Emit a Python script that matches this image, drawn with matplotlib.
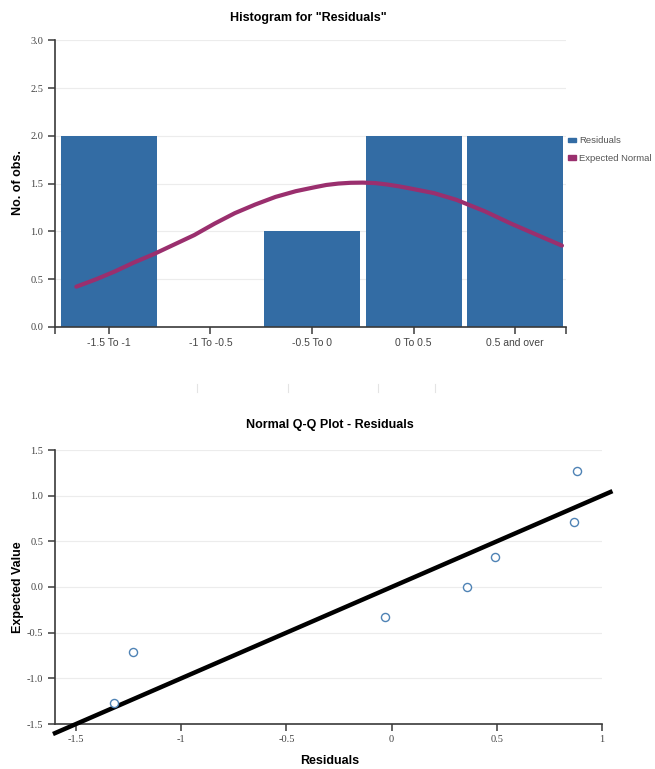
import numpy as np
import matplotlib
matplotlib.use("Agg")
import matplotlib.pyplot as plt
from matplotlib.patches import Patch
from matplotlib.lines import Line2D

# Histogram bins and observed counts
bin_labels = ["-1.5 To -1", "-1 To -0.5", "-0.5 To 0", "0 To 0.5", "0.5 and over"]
bin_counts = [2, 0, 1, 2, 2]
bin_start = -1.5
bin_width = 0.5

# Expected normal counts over the residual range
normal_x = [-1.41, -1.31, -1.22, -1.13, -1.03, -0.93, -0.83, -0.73, -0.63, -0.53,
            -0.43, -0.33, -0.24, -0.18, -0.12, -0.06, 0.00, 0.06, 0.12, 0.18,
            0.23, 0.35, 0.46, 0.60, 0.73, 0.86, 0.98]
normal_y = [0.42, 0.50, 0.58, 0.67, 0.76, 0.86, 0.96, 1.08, 1.19, 1.28,
            1.36, 1.42, 1.46, 1.485, 1.50, 1.508, 1.51, 1.505, 1.49, 1.47,
            1.45, 1.40, 1.33, 1.21, 1.08, 0.96, 0.85]

# Q-Q plot: residuals against expected normal values
residuals = [-1.32, -1.23, -0.03, 0.36, 0.49, 0.865, 0.88]
expected = [-1.27, -0.71, -0.33, 0.00, 0.33, 0.71, 1.27]
ref_line = [-1.6, 1.04]

bar_color = "#336ca4"
curve_color = "#9a2f6e"
point_color = "#4f83b5"
grid_color = "#ececec"
axis_color = "#3a3a3a"
tick_color = "#444444"

sans = ["Liberation Sans", "DejaVu Sans"]
narrow = ["Liberation Sans Narrow", "Liberation Sans", "DejaVu Sans"]
serif = ["Liberation Serif", "DejaVu Serif"]

W, H = 655, 769
fig = plt.figure(figsize=(W / 100, H / 100), dpi=100)


def px_axes(left, top, right, bottom):
    return fig.add_axes([left / W, 1 - bottom / H, (right - left) / W, (bottom - top) / H])


def style_axes(ax):
    for side in ["top", "right"]:
        ax.spines[side].set_visible(False)
    for side in ["left", "bottom"]:
        ax.spines[side].set_color(axis_color)
        ax.spines[side].set_linewidth(1.2)
    ax.tick_params(axis="both", which="both", colors=axis_color, length=5, width=1.1)
    ax.grid(axis="y", color=grid_color, linewidth=0.8)
    ax.set_axisbelow(True)


# ---- Histogram ----
ax1 = px_axes(55, 40.3, 566, 326.8)
style_axes(ax1)
pos = np.arange(len(bin_labels))
ax1.bar(pos, bin_counts, width=0.945, color=bar_color, zorder=2)

# map residual values onto bin positions
curve_pos = (np.array(normal_x) - bin_start) / bin_width - 0.5
ax1.plot(curve_pos, normal_y, color=curve_color, linewidth=3.0,
         solid_capstyle="round", solid_joinstyle="round", zorder=3)

ax1.set_xlim(-0.53, 4.5)
ax1.set_ylim(0, 3.0)
ax1.set_yticks(np.arange(0, 3.01, 0.5))
ax1.set_yticklabels([f"{v:.1f}" for v in np.arange(0, 3.01, 0.5)],
                    fontsize=7.5, color=tick_color, family=serif)
ax1.set_xticks(pos)
ax1.set_xticks([-0.53, 4.5], minor=True)
ax1.set_xticklabels(bin_labels, fontsize=7.5, color=tick_color, family=narrow)
ax1.tick_params(axis="x", pad=3)

handles = [Patch(color=bar_color, label="Residuals"),
           Patch(color=curve_color, label="Expected Normal")]
ax1.legend(handles=handles, loc="upper left", bbox_to_anchor=(1.004, 0.665),
           frameon=False, labelcolor="#555555", handlelength=0.8,
           handleheight=0.4, handletextpad=0.35, labelspacing=0.95,
           borderpad=0, borderaxespad=0, prop={"family": sans, "size": 6.8})

fig.text(308 / W, 1 - 18 / H, 'Histogram for "Residuals"', ha="center", va="center",
         fontsize=9, fontweight="bold", family=sans)
fig.text(18 / W, 1 - 183 / H, "No. of obs.", ha="center", va="center", rotation=90,
         fontsize=9, fontweight="bold", family=sans)

# faint leftover tick marks between the two charts
for x in [197, 288, 378, 435]:
    fig.add_artist(Line2D([x / W, x / W], [1 - 384 / H, 1 - 392 / H],
                          color="#e4e4e4", linewidth=0.8))

# ---- Normal Q-Q plot ----
ax2 = px_axes(55, 450, 602, 724)
style_axes(ax2)
ax2.plot(ref_line, ref_line, color="black", linewidth=3.2, clip_on=False, zorder=3)
ax2.scatter(residuals, expected, s=34, facecolors="white", edgecolors=point_color,
            linewidths=1.0, zorder=4)

ax2.set_xlim(-1.6, 1.0)
ax2.set_ylim(-1.5, 1.5)
xt = [-1.5, -1, -0.5, 0, 0.5, 1]
ax2.set_xticks(xt)
ax2.set_xticklabels(["-1.5", "-1", "-0.5", "0", "0.5", "1"], fontsize=7.5,
                    color=tick_color, family=serif)
yt = np.arange(-1.5, 1.51, 0.5)
ax2.set_yticks(yt)
ax2.set_yticklabels([f"{v:.1f}" for v in yt], fontsize=7.5, color=tick_color,
                    family=serif)
ax2.tick_params(axis="x", pad=3)

fig.text(330 / W, 1 - 425 / H, "Normal Q-Q Plot - Residuals", ha="center", va="center",
         fontsize=9, fontweight="bold", family=sans)
fig.text(18 / W, 1 - 587 / H, "Expected Value", ha="center", va="center", rotation=90,
         fontsize=9, fontweight="bold", family=sans)
fig.text(330 / W, 1 - 761 / H, "Residuals", ha="center", va="center",
         fontsize=9, fontweight="bold", family=sans)

fig.savefig("out.png", dpi=100)
